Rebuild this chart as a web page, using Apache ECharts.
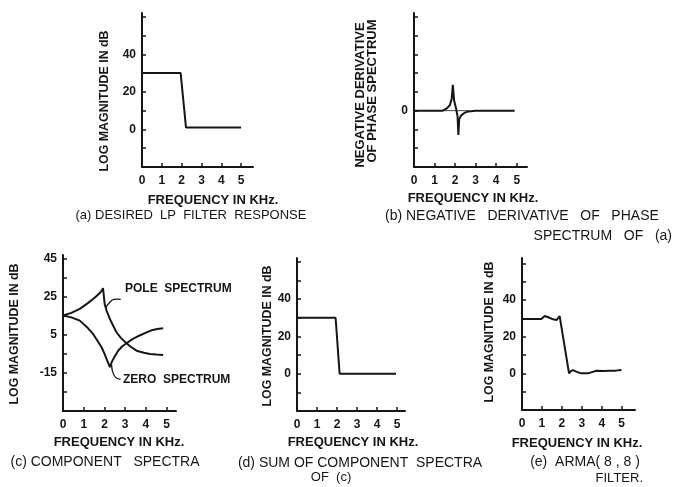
<!DOCTYPE html>
<html>
<head>
<meta charset="utf-8">
<script src="https://cdn.jsdelivr.net/npm/echarts@6/dist/echarts.min.js"></script>
<style>
html,body{margin:0;padding:0;background:#fff;}
#c{width:677px;height:487px;}
</style>
</head>
<body>
<div id="c"></div>
<script>
// ---- data ----
const xTicks = [0, 1, 2, 3, 4, 5];
const magTicks = [-20, -10, 0, 10, 20, 30, 40, 50, 60];
const magLabels = [0, 20, 40];
const phaseTicks = [-3, -2, -1, 0, 1, 2, 3, 4, 5];
const phaseLabels = [0];
const compTicks = [-35, -25, -15, -5, 5, 15, 25, 35, 45];
const compLabels = [45, 25, 5, -15];

// (a) desired LP filter response
const aFreq = [0, 1.95, 2.22, 5.0];
const aMag = [30, 30, 1, 1];

// (b) negative derivative of phase spectrum
const bFreq = [0, 1.4, 1.6, 1.75, 1.84, 1.89, 1.95, 2.05, 2.12, 2.16, 2.2, 2.3, 2.45, 2.65, 3.0, 4.9];
const bVal = [0, 0, 0.12, 0.3, 0.66, 1.37, 0.55, 0.1, -0.3, -1.3, -0.45, -0.25, -0.12, -0.04, 0, 0];
const bBaseFreq = [1.4, 2.7];
const bBaseVal = [0, 0];

// (c) component spectra
const cPoleFreq = [0, 0.4, 0.81, 1.2, 1.45, 1.65, 1.77, 1.87, 1.93, 2.01, 2.1, 2.26, 2.42, 2.58, 2.8, 3.06, 3.3, 3.55, 3.9, 4.19, 4.5, 4.83];
const cPole = [15.2, 16.6, 18.7, 21.7, 23.9, 25.7, 27, 28.3, 29.6, 21.3, 17.8, 13.4, 9.8, 6.4, 3.3, 0.6, -1.5, -3.3, -4.4, -5, -5.3, -5.5];
const cZeroFreq = [0, 0.4, 0.81, 1.2, 1.45, 1.7, 1.86, 2.0, 2.1, 2.2, 2.26, 2.3, 2.34, 2.45, 2.66, 2.85, 3.06, 3.35, 3.7, 4.0, 4.27, 4.55, 4.83];
const cZero = [15.2, 14.2, 12.5, 8.6, 5.5, 1.3, -1.5, -4.8, -7.6, -10.2, -12, -10.8, -9.5, -7.2, -3.3, -1.1, 0.6, 2.8, 4.7, 6.2, 7.4, 8.1, 8.5];

// (d) sum of component spectra
const dFreq = [0, 1.93, 2.13, 4.95];
const dMag = [30, 30, 0, 0];

// (e) ARMA(8,8) filter
const eFreq = [0, 0.5, 0.97, 1.14, 1.35, 1.56, 1.73, 1.89, 2.36, 2.45, 2.56, 2.75, 2.98, 3.32, 3.55, 3.74, 4.1, 4.41, 4.7, 4.99];
const eMag = [29.7, 29.7, 29.7, 31.3, 30.5, 29.5, 29.1, 31.3, 0, 1.2, 1.8, 0.8, 0, 0, 0.8, 1.4, 1.3, 1.4, 1.5, 1.8];

// ---- build ----
const ink = '#161616';
const FONT = 'Liberation Sans';
function pairs(xs, ys) { return xs.map((x, i) => [x, ys[i]]); }

const grids = [
  { left: 142, top: 13, width: 111, height: 154 },  // a
  { left: 414, top: 13, width: 113, height: 154 },  // b
  { left: 63,  top: 255, width: 113, height: 156 }, // c
  { left: 297, top: 258, width: 108, height: 153 }, // d
  { left: 522, top: 258, width: 113, height: 152 }  // e
];
const xMax = [5.6, 5.5, 5.45, 5.4, 5.67];
const yRange = [[-20, 62], [-3, 5.2], [-35, 47], [-20, 62], [-20, 63]];
const yTicks = [magTicks, phaseTicks, compTicks, magTicks, magTicks];
const yLabels = [magLabels, phaseLabels, compLabels, magLabels, magLabels];

const axisLine = { show: true, onZero: false, lineStyle: { color: ink, width: 2 } };
const xAxes = grids.map((g, i) => ({
  type: 'value', gridIndex: i, min: 0, max: xMax[i],
  axisLine: axisLine,
  axisTick: { show: true, inside: true, length: 4, customValues: xTicks, lineStyle: { color: ink, width: 1.5 } },
  axisLabel: { show: true, customValues: xTicks, margin: 8, color: ink, fontSize: 12, fontWeight: 'bold', fontFamily: FONT },
  splitLine: { show: false }
}));
const yAxes = grids.map((g, i) => ({
  type: 'value', gridIndex: i, min: yRange[i][0], max: yRange[i][1],
  axisLine: axisLine,
  axisTick: { show: true, inside: true, length: 4, customValues: yTicks[i], lineStyle: { color: ink, width: 1.5 } },
  axisLabel: { show: true, customValues: yLabels[i], margin: 6, color: ink, fontSize: 12, fontWeight: 'bold', fontFamily: FONT },
  splitLine: { show: false }
}));

function line(idx, xs, ys, w) {
  return {
    type: 'line', xAxisIndex: idx, yAxisIndex: idx, data: pairs(xs, ys),
    showSymbol: false, symbol: 'none', animation: false, silent: true,
    lineStyle: { color: ink, width: w || 2 }
  };
}

const series = [
  line(0, aFreq, aMag),
  line(1, bBaseFreq, bBaseVal, 0.8),
  line(1, bFreq, bVal),
  line(2, cPoleFreq, cPole),
  line(2, cZeroFreq, cZero),
  line(3, dFreq, dMag),
  line(4, eFreq, eMag)
];

function txt(x, y, text, opt) {
  opt = opt || {};
  return {
    type: 'text', x: x, y: y, rotation: opt.rot || 0, silent: true,
    style: {
      text: text, fill: ink,
      font: (opt.weight || 'bold') + ' ' + (opt.size || 12) + 'px "' + FONT + '"',
      textAlign: opt.align || 'center', align: opt.align || 'center',
      textVerticalAlign: 'middle', verticalAlign: 'middle'
    }
  };
}
const R = Math.PI / 2;
const cap = { weight: 'normal', size: 14 };
const texts = [
  // y-axis titles
  txt(105, 101, 'LOG MAGNITUDE IN dB', { rot: R, size: 12.4 }),
  txt(360, 95, 'NEGATIVE DERIVATIVE', { rot: R, size: 13 }),
  txt(372, 91, 'OF PHASE SPECTRUM', { rot: R, size: 13 }),
  txt(15, 334, 'LOG MAGNITUDE IN dB', { rot: R, size: 12.4 }),
  txt(268, 336, 'LOG MAGNITUDE IN dB', { rot: R, size: 12.4 }),
  txt(490, 332, 'LOG MAGNITUDE IN dB', { rot: R, size: 12.4 }),
  // x-axis titles
  txt(213, 200, 'FREQUENCY IN KHz.', { size: 13 }),
  txt(473, 198, 'FREQUENCY IN KHz.', { size: 13 }),
  txt(119, 442, 'FREQUENCY IN KHz.', { size: 13 }),
  txt(353, 442, 'FREQUENCY IN KHz.', { size: 13 }),
  txt(577, 443, 'FREQUENCY IN KHz.', { size: 13 }),
  // captions
  txt(191, 215, '(a) DESIRED  LP  FILTER  RESPONSE', { weight: 'normal', size: 13 }),
  txt(385, 216, '(b) NEGATIVE   DERIVATIVE   OF   PHASE', { weight: 'normal', size: 14, align: 'left' }),
  txt(672, 236, 'SPECTRUM   OF   (a)', { weight: 'normal', size: 14, align: 'right' }),
  txt(105, 462, '(c) COMPONENT   SPECTRA', cap),
  txt(360, 463, '(d) SUM OF COMPONENT  SPECTRA', cap),
  txt(331, 477, 'OF  (c)', { weight: 'normal', size: 13 }),
  txt(585, 462, '(e)  ARMA( 8 , 8 )', cap),
  txt(643, 478, 'FILTER.', { weight: 'normal', size: 13, align: 'right' }),
  // annotations
  txt(125, 289, 'POLE  SPECTRUM', { align: 'left' }),
  txt(123, 380, 'ZERO  SPECTRUM', { align: 'left' })
];

const chart = echarts.init(document.getElementById('c'), null, { renderer: 'canvas' });
chart.setOption({
  backgroundColor: '#ffffff',
  animation: false,
  grid: grids,
  xAxis: xAxes,
  yAxis: yAxes,
  series: series,
  graphic: texts
});

// leader lines for the annotations, anchored on the curves
const poleAnchor = chart.convertToPixel({ xAxisIndex: 2, yAxisIndex: 2 }, [2.06, 19.5]);
const zeroAnchor = chart.convertToPixel({ xAxisIndex: 2, yAxisIndex: 2 }, [2.34, -10.5]);
const leaders = [
  { type: 'polyline', silent: true, shape: { points: [poleAnchor, [poleAnchor[0] + 5, poleAnchor[1] - 6], [poleAnchor[0] + 8, poleAnchor[1] - 8], [poleAnchor[0] + 15, poleAnchor[1] - 8]], smooth: 0.3 }, style: { stroke: ink, lineWidth: 1.3, fill: null } },
  { type: 'polyline', silent: true, shape: { points: [zeroAnchor, [zeroAnchor[0] + 1, zeroAnchor[1] + 7], [zeroAnchor[0] + 4, zeroAnchor[1] + 13], [zeroAnchor[0] + 9, zeroAnchor[1] + 15]], smooth: 0.3 }, style: { stroke: ink, lineWidth: 1.3, fill: null } }
];
chart.setOption({ graphic: texts.concat(leaders) });
</script>
</body>
</html>
